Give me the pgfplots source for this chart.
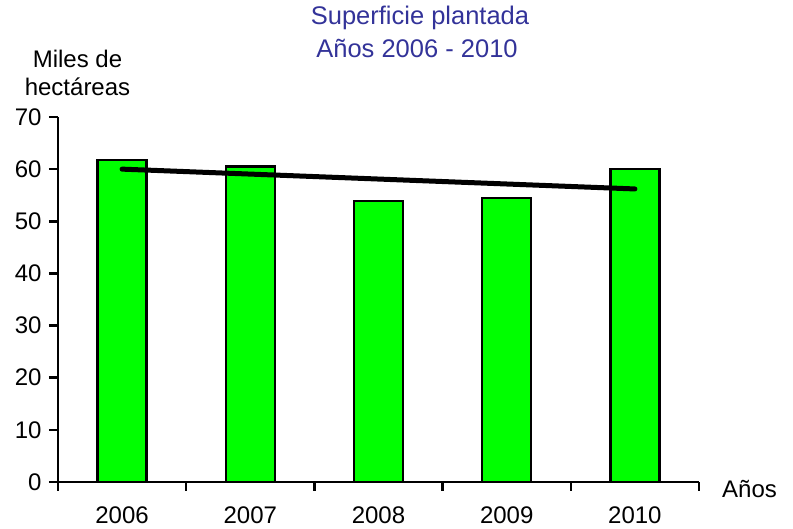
\documentclass[border=0pt]{standalone}
\usepackage{pgfplots}
\pgfplotsset{compat=1.18}
\usepackage{fontspec}
\setmainfont{Liberation Sans}
\definecolor{titleblue}{RGB}{51,51,153}
\definecolor{bargreen}{RGB}{0,255,0}
\begin{document}
\begin{tikzpicture}
\begin{axis}[
  at={(0pt,0pt)}, anchor=south west,
  scale only axis, width=641pt, height=365pt,
  xmin=-0.5, xmax=4.5, ymin=0, ymax=70,
  axis lines*=left,
  axis line style={line width=2.5pt},
  every tick/.style={line width=2.5pt, black},
  tick align=outside,
  major tick length=9pt, minor tick length=9pt,
  xtick={0,1,2,3,4},
  xticklabels={2006,2007,2008,2009,2010},
  major x tick style={draw=none},
  minor xtick={-0.5,0.5,1.5,2.5,3.5,4.5},
  ytick={0,10,...,70},
  tick label style={font=\fontsize{24}{27}\selectfont},
  /pgf/number format/assume math mode=true,
  xticklabel style={yshift=-12pt},
  yticklabel style={xshift=-4pt},
  clip=false,
]
\addplot[ybar, bar width=49pt, fill=bargreen, draw=black, line width=2.3pt]
  coordinates {(0,61.8) (1,60.5) (2,53.9) (3,54.5) (4,60.0)};
\addplot[black, line width=5pt, line cap=round, mark=none]
  coordinates {(0,60.0) (4,56.2)};
\end{axis}
\node[titleblue, anchor=base, font=\fontsize{25.5}{28}\selectfont] at (362pt,457pt) {Superficie plantada};
\node[titleblue, anchor=base, font=\fontsize{25.5}{28}\selectfont] at (359pt,424pt) {Años 2006 - 2010};
\node[anchor=base, font=\fontsize{24}{27}\selectfont] at (19.5pt,414pt) {Miles de};
\node[anchor=base, font=\fontsize{24}{27}\selectfont] at (19.5pt,386pt) {hectáreas};
\node[anchor=base west, inner sep=0pt, font=\fontsize{24}{27}\selectfont] at (664pt,-16pt) {Años};
\path[use as bounding box] (-58pt,-47pt) rectangle (735pt,482pt);
\end{tikzpicture}
\end{document}
